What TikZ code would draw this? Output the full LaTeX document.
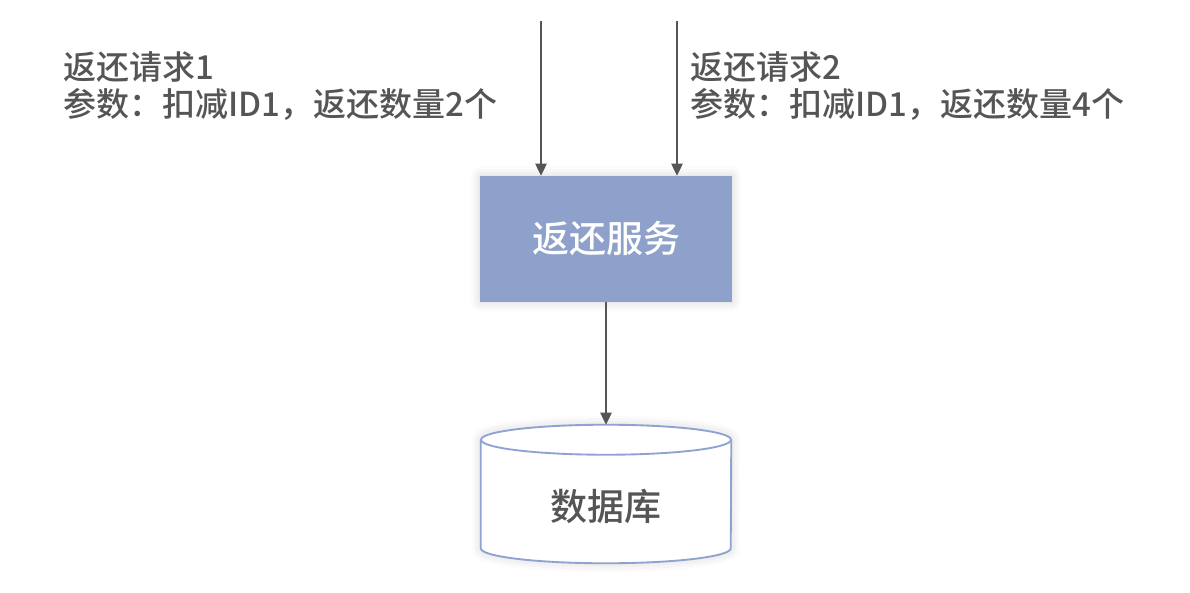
\documentclass[tikz,border=0pt]{standalone}
\usepackage{fontspec}
\setmainfont{Noto Sans CJK SC}[UprightFont={* Medium}]
\usepackage{tikz}
\usetikzlibrary{arrows.meta,positioning,calc,shadows.blur}
\definecolor{SvcBlue}{HTML}{8DA1CB}
\definecolor{DbLine}{HTML}{8FA3D2}
\definecolor{ArrowGray}{HTML}{555555}
\definecolor{TextGray}{HTML}{555555}

\begin{document}
\begin{tikzpicture}[x=0.75pt,y=-0.75pt,
		flow/.style={-{Triangle[length=9pt,width=8.5pt]},draw=ArrowGray,line width=1pt},
		glow/.style={blur shadow={shadow xshift=0pt,shadow yshift=0pt,shadow blur radius=7pt,shadow opacity=18}},
		note/.style={align=left,inner sep=0pt,text=TextGray,font=\fontsize{24.75}{27.75}\selectfont}]
		\useasboundingbox (0,0) rectangle (1190,593);
		% service box
		\node[fill=SvcBlue,glow,minimum width=189pt,minimum height=94.5pt,inner sep=0pt,
			text=white,font=\fontsize{27.75}{30}\selectfont] (svc) at (606,239) {\raisebox{-3.5pt}{返还服务}};
		% database
		\node[minimum width=187.5pt,minimum height=103.5pt,inner sep=0pt] (db) at (606,494) {};
		\fill[white,glow] ($(db.north west)+(0,15)$) -- ($(db.south west)+(0,-15)$)
			arc[start angle=180,end angle=0,x radius=125,y radius=15]
			-- ($(db.north east)+(0,15)$) arc[start angle=360,end angle=180,x radius=125,y radius=15] -- cycle;
		\draw[DbLine,line width=1.4pt] ($(db.north west)+(0,15)$) -- ($(db.south west)+(0,-15)$)
			arc[start angle=180,end angle=0,x radius=125,y radius=15]
			-- ($(db.north east)+(0,15)$);
		\draw[DbLine,line width=1.4pt] ($(db.north)+(0,15)$) ellipse[x radius=125,y radius=15];
		\node[text=TextGray,font=\fontsize{27.75}{30}\selectfont] (dbtxt) at (606,506) {数据库};
		% requests
		\coordinate (in1) at (541,21);
		\coordinate (in2) at (677,21);
		\draw[flow] (in1) -- (in1 |- svc.north);
		\draw[flow] (in2) -- (in2 |- svc.north);
		\draw[flow] (svc.south) -- (db.north);
		\node[note,anchor=north west] (req1) at (63,51) {返还请求1\\参数：扣减ID1，返还数量2个};
		\node[note,anchor=north west] (req2) at (690,51) {返还请求2\\参数：扣减ID1，返还数量4个};
	\end{tikzpicture}
\end{document}
